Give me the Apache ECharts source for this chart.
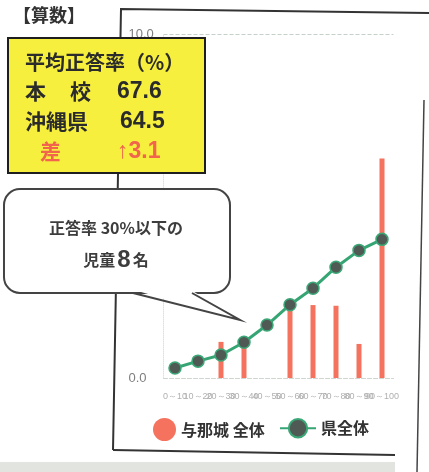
<!DOCTYPE html>
<html>
<head>
<meta charset="utf-8">
<script src="https://cdn.jsdelivr.net/npm/echarts@6/dist/echarts.min.js"></script>
<style>
html,body{margin:0;padding:0;background:#fff;}
#c{width:429px;height:472px;}
</style>
</head>
<body>
<div id="c"></div>
<script>
const categories = ['0～10','10～20','20～30','30～40','40～50','50～60','60～70','70～80','80～90','90～100'];
const schoolValues = [0, 0, 1.05, 1.05, 0, 2.15, 2.12, 2.1, 0.99, 6.38];
const prefValues = [0.29, 0.49, 0.67, 1.04, 1.54, 2.13, 2.61, 3.22, 3.71, 4.03];
const yMin = 0, yMax = 10, yInterval = 10;
const seriesNames = ['与那城 全体', '県全体'];

const CJK = '"Noto Sans CJK JP", "Noto Sans", sans-serif';
const NUM = '"Liberation Sans", Arial, sans-serif';
const RED = '#f0654c';
const DARK = '#2b2b2b';

const chart = echarts.init(document.getElementById('c'));
chart.setOption({
  backgroundColor: '#ffffff',
  animation: false,
  grid: { left: 163.5, right: 35.5, top: 34, bottom: 94 },
  xAxis: {
    type: 'category',
    data: categories,
    boundaryGap: true,
    axisLine: { show: true, lineStyle: { color: '#cfd6d0', type: 'dashed', width: 1 } },
    axisTick: { show: false },
    axisLabel: { interval: 0, fontSize: 9, color: '#b0b0b0', margin: 14, fontFamily: NUM }
  },
  yAxis: {
    type: 'value',
    min: yMin, max: yMax, interval: yInterval,
    axisLine: { show: true, lineStyle: { color: '#dde3de', type: 'dotted', width: 1 } },
    axisTick: { show: false },
    splitLine: { show: true, lineStyle: { color: '#c5d0c8', type: 'dashed', width: 1 } },
    axisLabel: { formatter: v => v.toFixed(1), align: 'left', margin: 35, fontSize: 13, color: '#7e7e7e', fontFamily: NUM, padding: [0, 0, 8, 0] }
  },
  legend: [
    {
      data: [seriesNames[0]], left: 148, top: 413,
      icon: 'circle', itemWidth: 23, itemHeight: 23, itemGap: 5,
      textStyle: { fontSize: 16, fontWeight: 'bold', color: '#333', fontFamily: CJK }
    },
    {
      data: [seriesNames[1]], left: 274, top: 413,
      itemWidth: 36, itemHeight: 23, itemGap: 5,
      textStyle: { fontSize: 16, fontWeight: 'bold', color: '#333', fontFamily: CJK }
    }
  ],
  series: [
    {
      name: seriesNames[0], type: 'bar', data: schoolValues, barWidth: 5,
      itemStyle: { color: '#f4725e' }, z: 2
    },
    {
      name: seriesNames[1], type: 'line', data: prefValues,
      symbol: 'circle', symbolSize: 12,
      lineStyle: { color: '#35a574', width: 3 },
      itemStyle: { color: '#505a55', borderColor: '#3aa876', borderWidth: 1.5 },
      z: 3
    }
  ],
  graphic: [
    // page frame lines
    { type: 'polyline', z: 50, shape: { points: [[113,450],[121,9],[429,13]] }, style: { stroke: '#333', lineWidth: 2, fill: null } },
    { type: 'line', z: 50, shape: { x1: 113, y1: 450, x2: 395, y2: 455 }, style: { stroke: '#333', lineWidth: 2 } },
    { type: 'line', z: 50, shape: { x1: 424, y1: 100, x2: 417, y2: 472 }, style: { stroke: '#444', lineWidth: 1.5 } },
    { type: 'rect', z: 50, shape: { x: 0, y: 462, width: 395, height: 10 }, style: { fill: '#e2e5df' } },
    // title
    { type: 'text', z: 101, x: 13, y: 15, style: { text: '【算数】', fontSize: 18, fontWeight: 'bold', fontFamily: CJK, fill: '#333', textVerticalAlign: 'middle' } },
    // yellow box
    { type: 'rect', z: 100, shape: { x: 8, y: 38, width: 197, height: 135 }, style: { fill: '#f7ef3e', stroke: '#1e1e1e', lineWidth: 2 } },
    { type: 'text', z: 101, x: 25, y: 62, style: { text: '平均正答率（%）', fontSize: 20, fontWeight: 'bold', fontFamily: CJK, fill: DARK, textVerticalAlign: 'middle' } },
    { type: 'text', z: 101, x: 25, y: 91, style: { text: '本', fontSize: 21, fontWeight: 'bold', fontFamily: CJK, fill: DARK, textVerticalAlign: 'middle' } },
    { type: 'text', z: 101, x: 70, y: 91, style: { text: '校', fontSize: 21, fontWeight: 'bold', fontFamily: CJK, fill: DARK, textVerticalAlign: 'middle' } },
    { type: 'text', z: 101, x: 117, y: 92, style: { text: '67.6', fontSize: 23, fontWeight: 'bold', fontFamily: NUM, fill: DARK, textVerticalAlign: 'middle' } },
    { type: 'text', z: 101, x: 25, y: 121, style: { text: '沖縄県', fontSize: 21, fontWeight: 'bold', fontFamily: CJK, fill: DARK, textVerticalAlign: 'middle' } },
    { type: 'text', z: 101, x: 120, y: 122, style: { text: '64.5', fontSize: 23, fontWeight: 'bold', fontFamily: NUM, fill: DARK, textVerticalAlign: 'middle' } },
    { type: 'text', z: 101, x: 40, y: 151, style: { text: '差', fontSize: 21, fontWeight: 'bold', fontFamily: CJK, fill: RED, textVerticalAlign: 'middle' } },
    { type: 'text', z: 101, x: 117, y: 152, style: { text: '↑3.1', fontSize: 23, fontWeight: 'bold', fontFamily: NUM, fill: RED, textVerticalAlign: 'middle' } },
    // speech bubble
    { type: 'rect', z: 100, shape: { x: 4, y: 189, width: 226, height: 104, r: 16 }, style: { fill: '#ffffff', stroke: '#444', lineWidth: 2 } },
    { type: 'polygon', z: 100, shape: { points: [[134,290],[191,290],[240,320]] }, style: { fill: '#ffffff' } },
    { type: 'polyline', z: 100, shape: { points: [[133,293],[240,320],[192,293]] }, style: { stroke: '#444', lineWidth: 2, fill: null } },
    { type: 'text', z: 101, x: 116, y: 228, style: { text: '正答率 30%以下の', fontSize: 16, fontWeight: 'bold', fontFamily: CJK, fill: '#3d3d3d', textAlign: 'center', textVerticalAlign: 'middle' } },
    { type: 'text', z: 101, x: 116, y: 260, style: {
        text: '{a|児童}{b|8}{a|名}', textAlign: 'center', textVerticalAlign: 'middle',
        rich: {
          a: { fontSize: 16, fontWeight: 'bold', fontFamily: CJK, fill: '#3d3d3d' },
          b: { fontSize: 24, fontWeight: 'bold', fontFamily: NUM, fill: '#3d3d3d', padding: [0, 2, 0, 2] }
        } } }
  ]
});
</script>
</body>
</html>
